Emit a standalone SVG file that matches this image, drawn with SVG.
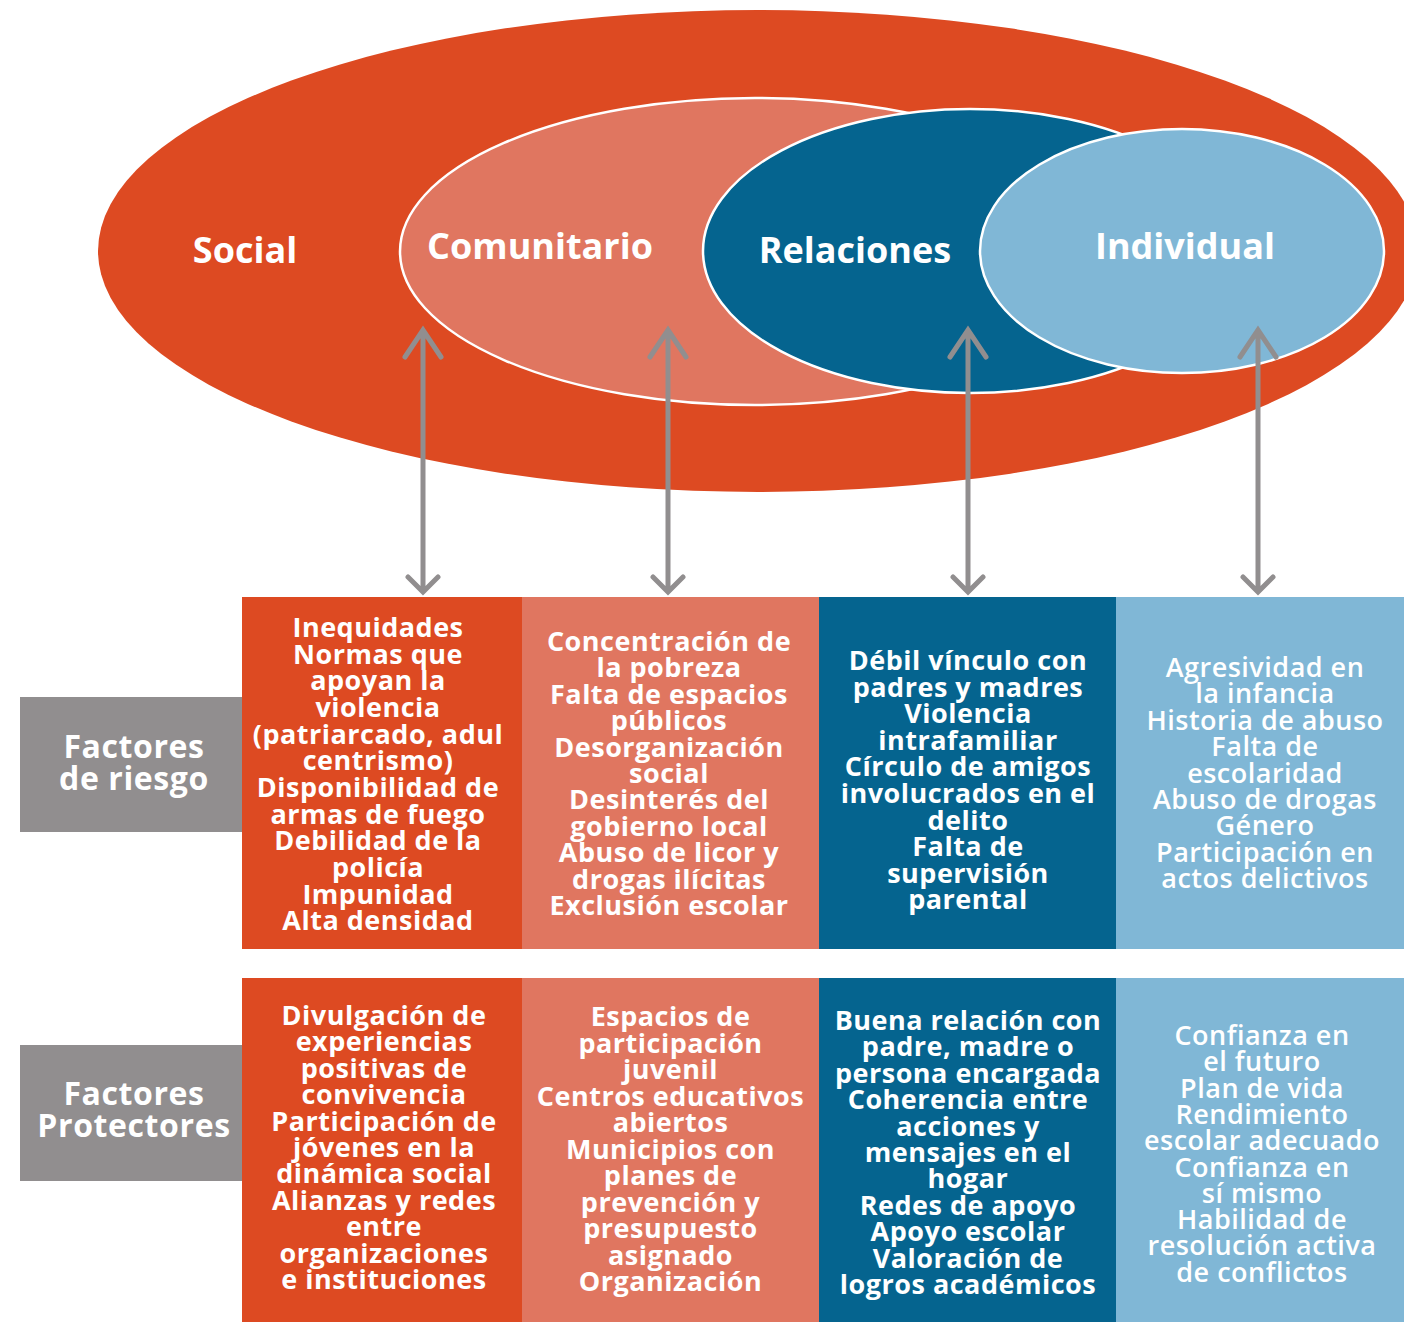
<svg xmlns="http://www.w3.org/2000/svg" width="1404" height="1322" viewBox="0 0 1404 1322">
<style>
.lbl{font-family:"Open Sans","Liberation Sans",sans-serif;font-weight:700;fill:#ffffff;text-anchor:middle}
.big{font-size:36px}
.side{font-size:32px;letter-spacing:0.6px}
.body{font-size:27px;letter-spacing:0.5px}
.semi{font-weight:600}
.arrow{fill:none;stroke:#918e8f;stroke-width:5;stroke-linecap:round;stroke-linejoin:miter}
.ring{stroke:#ffffff;stroke-width:2.5}
</style>
<rect width="1404" height="1322" fill="#ffffff"/>
<g id="ellipse-social"><ellipse cx="758" cy="251" rx="660" ry="241" fill="#dd4a22"/><text class="lbl big" x="245" y="263">Social</text></g>
<g id="ellipse-comunitario"><ellipse class="ring" cx="755" cy="251.5" rx="355" ry="153.5" fill="#e07660"/><text class="lbl big" x="540" y="259">Comunitario</text></g>
<g id="ellipse-relaciones"><ellipse class="ring" cx="970" cy="251" rx="267" ry="142" fill="#05648f"/><text class="lbl big" x="855" y="263">Relaciones</text></g>
<g id="ellipse-individual"><ellipse class="ring" cx="1182" cy="251" rx="202" ry="122" fill="#80b7d6"/><text class="lbl big" x="1185" y="259">Individual</text></g>

<g id="connectors">
<path class="arrow" d="M423,332 V590 M405,357 L423,330 L441,357 M408,577 L423,592 L438,577"/>
<path class="arrow" d="M668,332 V590 M650,357 L668,330 L686,357 M653,577 L668,592 L683,577"/>
<path class="arrow" d="M968,332 V590 M950,357 L968,330 L986,357 M953,577 L968,592 L983,577"/>
<path class="arrow" d="M1258,332 V590 M1240,357 L1258,330 L1276,357 M1243,577 L1258,592 L1273,577"/>
</g>

<g id="label-riesgo"><rect x="20" y="697" width="222" height="135" fill="#918e8f"/><text class="lbl side" x="134" y="758">Factores<tspan x="134" y="790">de riesgo</tspan></text></g>
<g id="label-protectores"><rect x="20" y="1045" width="222" height="136" fill="#918e8f"/><text class="lbl side" x="134" y="1105">Factores<tspan x="134" y="1137">Protectores</tspan></text></g>

<g id="riesgo-social"><rect x="242" y="597" width="280" height="352" fill="#dd4a22"/>
<text class="lbl body" x="378" y="637">Inequidades<tspan x="378" dy="26.65">Normas que</tspan><tspan x="378" dy="26.65">apoyan la</tspan><tspan x="378" dy="26.65">violencia</tspan><tspan x="378" dy="26.65">(patriarcado, adul</tspan><tspan x="378" dy="26.65">centrismo)</tspan><tspan x="378" dy="26.65">Disponibilidad de</tspan><tspan x="378" dy="26.65">armas de fuego</tspan><tspan x="378" dy="26.65">Debilidad de la</tspan><tspan x="378" dy="26.65">policía</tspan><tspan x="378" dy="26.65">Impunidad</tspan><tspan x="378" dy="26.65">Alta densidad</tspan></text></g>

<g id="riesgo-comunitario"><rect x="522" y="597" width="297" height="352" fill="#e07660"/>
<text class="lbl body" x="669" y="651">Concentración de<tspan x="669" dy="26.4">la pobreza</tspan><tspan x="669" dy="26.4">Falta de espacios</tspan><tspan x="669" dy="26.4">públicos</tspan><tspan x="669" dy="26.4">Desorganización</tspan><tspan x="669" dy="26.4">social</tspan><tspan x="669" dy="26.4">Desinterés del</tspan><tspan x="669" dy="26.4">gobierno local</tspan><tspan x="669" dy="26.4">Abuso de licor y</tspan><tspan x="669" dy="26.4">drogas ilícitas</tspan><tspan x="669" dy="26.4">Exclusión escolar</tspan></text></g>

<g id="riesgo-relaciones"><rect x="819" y="597" width="297" height="352" fill="#05648f"/>
<text class="lbl body" x="968" y="670">Débil vínculo con<tspan x="968" dy="26.6">padres y madres</tspan><tspan x="968" dy="26.6">Violencia</tspan><tspan x="968" dy="26.6">intrafamiliar</tspan><tspan x="968" dy="26.6">Círculo de amigos</tspan><tspan x="968" dy="26.6">involucrados en el</tspan><tspan x="968" dy="26.6">delito</tspan><tspan x="968" dy="26.6">Falta de</tspan><tspan x="968" dy="26.6">supervisión</tspan><tspan x="968" dy="26.6">parental</tspan></text></g>

<g id="riesgo-individual"><rect x="1116" y="597" width="288" height="352" fill="#80b7d6"/>
<text class="lbl body semi" x="1265" y="677">Agresividad en<tspan x="1265" dy="26.4">la infancia</tspan><tspan x="1265" dy="26.4">Historia de abuso</tspan><tspan x="1265" dy="26.4">Falta de</tspan><tspan x="1265" dy="26.4">escolaridad</tspan><tspan x="1265" dy="26.4">Abuso de drogas</tspan><tspan x="1265" dy="26.4">Género</tspan><tspan x="1265" dy="26.4">Participación en</tspan><tspan x="1265" dy="26.4">actos delictivos</tspan></text></g>

<g id="protector-social"><rect x="242" y="978" width="280" height="344" fill="#dd4a22"/>
<text class="lbl body" x="384" y="1025">Divulgación de<tspan x="384" dy="26.4">experiencias</tspan><tspan x="384" dy="26.4">positivas de</tspan><tspan x="384" dy="26.4">convivencia</tspan><tspan x="384" dy="26.4">Participación de</tspan><tspan x="384" dy="26.4">jóvenes en la</tspan><tspan x="384" dy="26.4">dinámica social</tspan><tspan x="384" dy="26.4">Alianzas y redes</tspan><tspan x="384" dy="26.4">entre</tspan><tspan x="384" dy="26.4">organizaciones</tspan><tspan x="384" dy="26.4">e instituciones</tspan></text></g>

<g id="protector-comunitario"><rect x="522" y="978" width="297" height="344" fill="#e07660"/>
<text class="lbl body" x="670.5" y="1026">Espacios de<tspan x="670.5" dy="26.5">participación</tspan><tspan x="670.5" dy="26.5">juvenil</tspan><tspan x="670.5" dy="26.5">Centros educativos</tspan><tspan x="670.5" dy="26.5">abiertos</tspan><tspan x="670.5" dy="26.5">Municipios con</tspan><tspan x="670.5" dy="26.5">planes de</tspan><tspan x="670.5" dy="26.5">prevención y</tspan><tspan x="670.5" dy="26.5">presupuesto</tspan><tspan x="670.5" dy="26.5">asignado</tspan><tspan x="670.5" dy="26.5">Organización</tspan></text></g>

<g id="protector-relaciones"><rect x="819" y="978" width="297" height="344" fill="#05648f"/>
<text class="lbl body" x="968" y="1030">Buena relación con<tspan x="968" dy="26.4">padre, madre o</tspan><tspan x="968" dy="26.4">persona encargada</tspan><tspan x="968" dy="26.4">Coherencia entre</tspan><tspan x="968" dy="26.4">acciones y</tspan><tspan x="968" dy="26.4">mensajes en el</tspan><tspan x="968" dy="26.4">hogar</tspan><tspan x="968" dy="26.4">Redes de apoyo</tspan><tspan x="968" dy="26.4">Apoyo escolar</tspan><tspan x="968" dy="26.4">Valoración de</tspan><tspan x="968" dy="26.4">logros académicos</tspan></text></g>

<g id="protector-individual"><rect x="1116" y="978" width="288" height="344" fill="#80b7d6"/>
<text class="lbl body semi" x="1262" y="1045">Confianza en<tspan x="1262" dy="26.3">el futuro</tspan><tspan x="1262" dy="26.3">Plan de vida</tspan><tspan x="1262" dy="26.3">Rendimiento</tspan><tspan x="1262" dy="26.3">escolar adecuado</tspan><tspan x="1262" dy="26.3">Confianza en</tspan><tspan x="1262" dy="26.3">sí mismo</tspan><tspan x="1262" dy="26.3">Habilidad de</tspan><tspan x="1262" dy="26.3">resolución activa</tspan><tspan x="1262" dy="26.3">de conflictos</tspan></text></g>
</svg>
